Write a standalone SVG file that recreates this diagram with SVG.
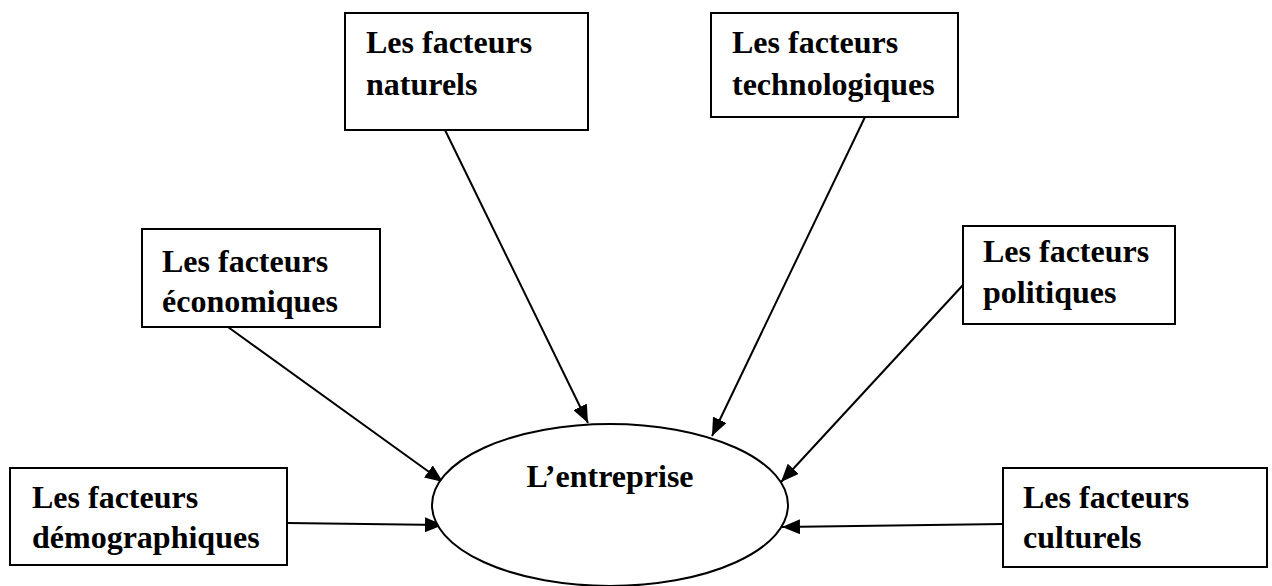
<svg xmlns="http://www.w3.org/2000/svg" width="1272" height="586" viewBox="0 0 1272 586">
  <style>
    .box { fill: #fff; stroke: #000; stroke-width: 2; }
    .lbl { font-family: "Liberation Serif", "Times New Roman", serif; font-weight: bold; font-size: 32px; fill: #000; }
    .edge { stroke: #000; stroke-width: 2; fill: none; marker-end: url(#head); }
  </style>
  <defs>
    <marker id="head" markerUnits="userSpaceOnUse" markerWidth="19" markerHeight="15" refX="18" refY="7.5" orient="auto">
      <path d="M0,0 L18,7.5 L0,15 Z" fill="#000"/>
    </marker>
  </defs>
  <rect width="1272" height="586" fill="#fff"/>

  <g id="connectors">
    <line class="edge" x1="445" y1="130" x2="588" y2="423"/>
    <line class="edge" x1="865" y1="117" x2="712" y2="436"/>
    <line class="edge" x1="228" y1="327" x2="443" y2="482"/>
    <line class="edge" x1="963" y1="285" x2="781" y2="482"/>
    <line class="edge" x1="287" y1="523" x2="443" y2="525"/>
    <line class="edge" x1="1003" y1="524" x2="782" y2="527"/>
  </g>

  <g id="entreprise">
    <ellipse class="box" cx="610" cy="505" rx="178" ry="81"/>
    <text class="lbl" x="610" y="487" text-anchor="middle">L’entreprise</text>
  </g>

  <g id="naturels">
    <rect class="box" x="345" y="13" width="243" height="117"/>
    <text class="lbl" x="366" y="53">Les facteurs</text>
    <text class="lbl" x="366" y="95">naturels</text>
  </g>

  <g id="technologiques">
    <rect class="box" x="711" y="13" width="247" height="104"/>
    <text class="lbl" x="732" y="53">Les facteurs</text>
    <text class="lbl" x="732" y="95">technologiques</text>
  </g>

  <g id="economiques">
    <rect class="box" x="142" y="229" width="238" height="98"/>
    <text class="lbl" x="162" y="272">Les facteurs</text>
    <text class="lbl" x="162" y="312">économiques</text>
  </g>

  <g id="politiques">
    <rect class="box" x="963" y="226" width="212" height="98"/>
    <text class="lbl" x="983" y="262">Les facteurs</text>
    <text class="lbl" x="983" y="303">politiques</text>
  </g>

  <g id="demographiques">
    <rect class="box" x="10" y="468" width="277" height="97"/>
    <text class="lbl" x="32" y="508">Les facteurs</text>
    <text class="lbl" x="32" y="548">démographiques</text>
  </g>

  <g id="culturels">
    <rect class="box" x="1003" y="468" width="264" height="99"/>
    <text class="lbl" x="1023" y="508">Les facteurs</text>
    <text class="lbl" x="1023" y="548">culturels</text>
  </g>
</svg>
